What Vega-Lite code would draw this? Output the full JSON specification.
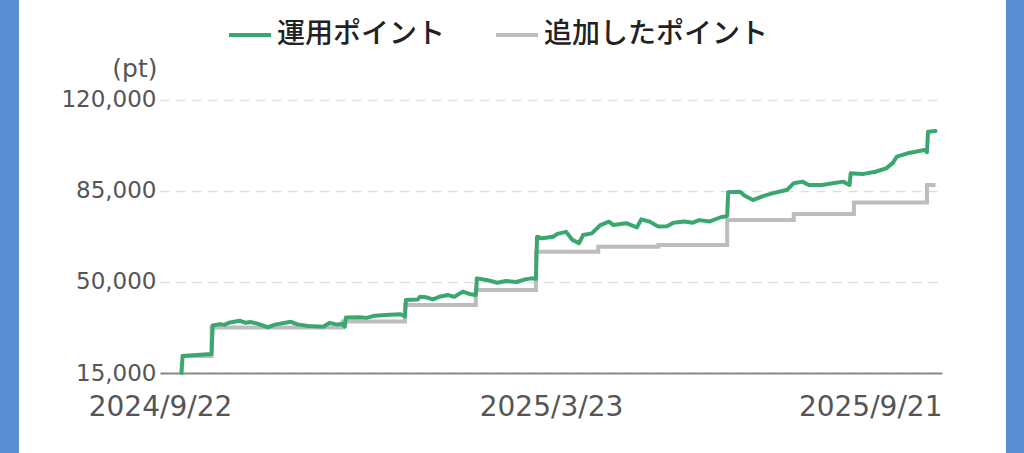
{
  "$schema": "https://vega.github.io/schema/vega-lite/v6.json",
  "padding": 0,
  "background": "white",
  "config": {"view": {"stroke": null}},
  "spacing": 41,
  "hconcat": [
    {
      "width": 19,
      "height": 453,
      "view": {"fill": "#5b8dd3", "stroke": null},
      "data": {"values": []},
      "mark": "point"
    },
    {
      "spacing": 62,
      "hconcat": [
        {
          "width": 782,
          "height": 373,
          "data": {
            "values": [
              {"series": "追加したポイント", "date": "2024-10-02", "pt": 21500},
              {"series": "追加したポイント", "date": "2024-10-16", "pt": 32500},
              {"series": "追加したポイント", "date": "2024-12-16", "pt": 34800},
              {"series": "追加したポイント", "date": "2025-01-14", "pt": 41200},
              {"series": "追加したポイント", "date": "2025-02-16", "pt": 46900},
              {"series": "追加したポイント", "date": "2025-03-16", "pt": 61600},
              {"series": "追加したポイント", "date": "2025-04-14", "pt": 63600},
              {"series": "追加したポイント", "date": "2025-05-12", "pt": 64200},
              {"series": "追加したポイント", "date": "2025-06-13", "pt": 73800},
              {"series": "追加したポイント", "date": "2025-07-14", "pt": 76200},
              {"series": "追加したポイント", "date": "2025-08-11", "pt": 80600},
              {"series": "追加したポイント", "date": "2025-09-14", "pt": 87300},
              {"series": "追加したポイント", "date": "2025-09-18", "pt": 87300},
              {"series": "運用ポイント", "date": "2024-10-02", "pt": 15000},
              {"series": "運用ポイント", "date": "2024-10-02T12:00:00Z", "pt": 21500},
              {"series": "運用ポイント", "date": "2024-10-09", "pt": 21900},
              {"series": "運用ポイント", "date": "2024-10-16", "pt": 22300},
              {"series": "運用ポイント", "date": "2024-10-16T12:00:00Z", "pt": 33300},
              {"series": "運用ポイント", "date": "2024-10-20", "pt": 33800},
              {"series": "運用ポイント", "date": "2024-10-22", "pt": 33500},
              {"series": "運用ポイント", "date": "2024-10-24", "pt": 34300},
              {"series": "運用ポイント", "date": "2024-10-29", "pt": 35100},
              {"series": "運用ポイント", "date": "2024-11-01", "pt": 34300},
              {"series": "運用ポイント", "date": "2024-11-03", "pt": 34600},
              {"series": "運用ポイント", "date": "2024-11-06", "pt": 34100},
              {"series": "運用ポイント", "date": "2024-11-11", "pt": 32600},
              {"series": "運用ポイント", "date": "2024-11-15", "pt": 33700},
              {"series": "運用ポイント", "date": "2024-11-22", "pt": 34700},
              {"series": "運用ポイント", "date": "2024-11-25", "pt": 33700},
              {"series": "運用ポイント", "date": "2024-11-30", "pt": 33100},
              {"series": "運用ポイント", "date": "2024-12-07", "pt": 32800},
              {"series": "運用ポイント", "date": "2024-12-10", "pt": 34300},
              {"series": "運用ポイント", "date": "2024-12-13", "pt": 33700},
              {"series": "運用ポイント", "date": "2024-12-16", "pt": 33800},
              {"series": "運用ポイント", "date": "2024-12-17", "pt": 32800},
              {"series": "運用ポイント", "date": "2024-12-17T12:00:00Z", "pt": 36300},
              {"series": "運用ポイント", "date": "2024-12-24", "pt": 36400},
              {"series": "運用ポイント", "date": "2024-12-27", "pt": 36200},
              {"series": "運用ポイント", "date": "2024-12-31", "pt": 37000},
              {"series": "運用ポイント", "date": "2025-01-07", "pt": 37400},
              {"series": "運用ポイント", "date": "2025-01-12", "pt": 37600},
              {"series": "運用ポイント", "date": "2025-01-14", "pt": 36700},
              {"series": "運用ポイント", "date": "2025-01-14T12:00:00Z", "pt": 43100},
              {"series": "運用ポイント", "date": "2025-01-20", "pt": 43300},
              {"series": "運用ポイント", "date": "2025-01-21", "pt": 44300},
              {"series": "運用ポイント", "date": "2025-01-24", "pt": 44100},
              {"series": "運用ポイント", "date": "2025-01-27", "pt": 43300},
              {"series": "運用ポイント", "date": "2025-01-30", "pt": 44300},
              {"series": "運用ポイント", "date": "2025-02-03", "pt": 45000},
              {"series": "運用ポイント", "date": "2025-02-06", "pt": 44300},
              {"series": "運用ポイント", "date": "2025-02-10", "pt": 46300},
              {"series": "運用ポイント", "date": "2025-02-13", "pt": 45400},
              {"series": "運用ポイント", "date": "2025-02-16", "pt": 45000},
              {"series": "運用ポイント", "date": "2025-02-16T12:00:00Z", "pt": 51400},
              {"series": "運用ポイント", "date": "2025-02-21", "pt": 50800},
              {"series": "運用ポイント", "date": "2025-02-26", "pt": 49700},
              {"series": "運用ポイント", "date": "2025-03-02", "pt": 50400},
              {"series": "運用ポイント", "date": "2025-03-07", "pt": 50000},
              {"series": "運用ポイント", "date": "2025-03-11", "pt": 51000},
              {"series": "運用ポイント", "date": "2025-03-14", "pt": 51400},
              {"series": "運用ポイント", "date": "2025-03-16", "pt": 51200},
              {"series": "運用ポイント", "date": "2025-03-16T12:00:00Z", "pt": 67400},
              {"series": "運用ポイント", "date": "2025-03-19", "pt": 66800},
              {"series": "運用ポイント", "date": "2025-03-24", "pt": 67400},
              {"series": "運用ポイント", "date": "2025-03-26", "pt": 68500},
              {"series": "運用ポイント", "date": "2025-03-30", "pt": 69300},
              {"series": "運用ポイント", "date": "2025-04-02", "pt": 66200},
              {"series": "運用ポイント", "date": "2025-04-05", "pt": 64900},
              {"series": "運用ポイント", "date": "2025-04-07", "pt": 68100},
              {"series": "運用ポイント", "date": "2025-04-11", "pt": 68700},
              {"series": "運用ポイント", "date": "2025-04-15", "pt": 71900},
              {"series": "運用ポイント", "date": "2025-04-19", "pt": 73200},
              {"series": "運用ポイント", "date": "2025-04-21", "pt": 71900},
              {"series": "運用ポイント", "date": "2025-04-27", "pt": 72600},
              {"series": "運用ポイント", "date": "2025-05-02", "pt": 71000},
              {"series": "運用ポイント", "date": "2025-05-04", "pt": 74100},
              {"series": "運用ポイント", "date": "2025-05-08", "pt": 73200},
              {"series": "運用ポイント", "date": "2025-05-12", "pt": 71300},
              {"series": "運用ポイント", "date": "2025-05-16", "pt": 71400},
              {"series": "運用ポイント", "date": "2025-05-19", "pt": 72800},
              {"series": "運用ポイント", "date": "2025-05-24", "pt": 73300},
              {"series": "運用ポイント", "date": "2025-05-28", "pt": 72800},
              {"series": "運用ポイント", "date": "2025-05-31", "pt": 73800},
              {"series": "運用ポイント", "date": "2025-06-05", "pt": 73300},
              {"series": "運用ポイント", "date": "2025-06-10", "pt": 74900},
              {"series": "運用ポイント", "date": "2025-06-13", "pt": 75400},
              {"series": "運用ポイント", "date": "2025-06-13T12:00:00Z", "pt": 84500},
              {"series": "運用ポイント", "date": "2025-06-19", "pt": 84700},
              {"series": "運用ポイント", "date": "2025-06-21", "pt": 83300},
              {"series": "運用ポイント", "date": "2025-06-25", "pt": 81500},
              {"series": "運用ポイント", "date": "2025-06-30", "pt": 83100},
              {"series": "運用ポイント", "date": "2025-07-04", "pt": 84100},
              {"series": "運用ポイント", "date": "2025-07-09", "pt": 85100},
              {"series": "運用ポイント", "date": "2025-07-11", "pt": 85500},
              {"series": "運用ポイント", "date": "2025-07-14", "pt": 88000},
              {"series": "運用ポイント", "date": "2025-07-18", "pt": 88600},
              {"series": "運用ポイント", "date": "2025-07-21", "pt": 87300},
              {"series": "運用ポイント", "date": "2025-07-27", "pt": 87300},
              {"series": "運用ポイント", "date": "2025-07-30", "pt": 87700},
              {"series": "運用ポイント", "date": "2025-08-06", "pt": 88600},
              {"series": "運用ポイント", "date": "2025-08-09", "pt": 87300},
              {"series": "運用ポイント", "date": "2025-08-09T12:00:00Z", "pt": 91800},
              {"series": "運用ポイント", "date": "2025-08-15", "pt": 91500},
              {"series": "運用ポイント", "date": "2025-08-21", "pt": 92400},
              {"series": "運用ポイント", "date": "2025-08-26", "pt": 93700},
              {"series": "運用ポイント", "date": "2025-08-29", "pt": 95700},
              {"series": "運用ポイント", "date": "2025-08-31", "pt": 98200},
              {"series": "運用ポイント", "date": "2025-09-05", "pt": 99500},
              {"series": "運用ポイント", "date": "2025-09-11", "pt": 100500},
              {"series": "運用ポイント", "date": "2025-09-13", "pt": 100800},
              {"series": "運用ポイント", "date": "2025-09-14", "pt": 99900},
              {"series": "運用ポイント", "date": "2025-09-14T12:00:00Z", "pt": 107800},
              {"series": "運用ポイント", "date": "2025-09-18", "pt": 108100}
            ]
          },
          "encoding": {
            "x": {
              "field": "date",
              "type": "temporal",
              "scale": {
                "type": "utc",
                "domain": [
                  {"year": 2024, "month": 9, "date": 22, "utc": true},
                  {"year": 2025, "month": 9, "date": 21, "utc": true}
                ]
              },
              "axis": {
                "title": null,
                "values": [
                  {"year": 2024, "month": 9, "date": 22, "utc": true},
                  {"year": 2025, "month": 3, "date": 23, "utc": true},
                  {"year": 2025, "month": 9, "date": 21, "utc": true}
                ],
                "format": "%Y/%-m/%-d",
                "grid": false,
                "ticks": false,
                "domainColor": "#8a8a8a",
                "domainWidth": 2,
                "labelFont": "DejaVu Sans",
                "labelFontSize": 28,
                "labelColor": "#555555",
                "labelPadding": 20,
                "labelAlign": {
                  "condition": {"test": "datum.value > 1757000000000", "value": "right"},
                  "value": "center"
                }
              }
            },
            "y": {
              "field": "pt",
              "type": "quantitative",
              "scale": {"domain": [15000, 158461], "nice": false, "zero": false},
              "axis": {
                "values": [15000, 50000, 85000, 120000],
                "format": ",d",
                "title": "(pt)",
                "titleAngle": 0,
                "titleAlign": "right",
                "titleBaseline": "alphabetic",
                "titleX": -3,
                "titleY": 76,
                "titleFont": "DejaVu Sans",
                "titleFontSize": 25,
                "titleFontWeight": "normal",
                "titleColor": "#555555",
                "domain": false,
                "ticks": false,
                "labelFont": "DejaVu Sans",
                "labelFontSize": 23,
                "labelColor": "#555555",
                "labelPadding": 4,
                "gridColor": "#dddddd",
                "gridWidth": 1.5,
                "gridDash": [9, 7]
              }
            },
            "color": {
              "field": "series",
              "type": "nominal",
              "scale": {
                "domain": ["運用ポイント", "追加したポイント"],
                "range": ["#3aa86e", "#bdbdbd"]
              },
              "legend": {
                "title": null,
                "orient": "none",
                "direction": "horizontal",
                "legendX": 227,
                "legendY": 12,
                "padding": 0,
                "symbolType": "stroke",
                "symbolSize": 1764,
                "symbolStrokeWidth": 4,
                "labelFont": "Noto Sans CJK JP",
                "labelFontSize": 28,
                "labelFontWeight": 500,
                "labelColor": "#222222",
                "labelLimit": 0,
                "labelOffset": 4,
                "columnPadding": 42
              }
            }
          },
          "layer": [
            {
              "transform": [{"filter": "datum.series == '追加したポイント'"}],
              "mark": {"type": "line", "interpolate": "step-after", "strokeWidth": 4}
            },
            {
              "transform": [{"filter": "datum.series == '運用ポイント'"}],
              "mark": {"type": "line", "strokeWidth": 4, "strokeJoin": "round", "strokeCap": "round"}
            }
          ]
        },
        {
          "width": 19,
          "height": 453,
          "view": {"fill": "#5b8dd3", "stroke": null},
          "data": {"values": []},
          "mark": "point"
        }
      ]
    }
  ]
}
